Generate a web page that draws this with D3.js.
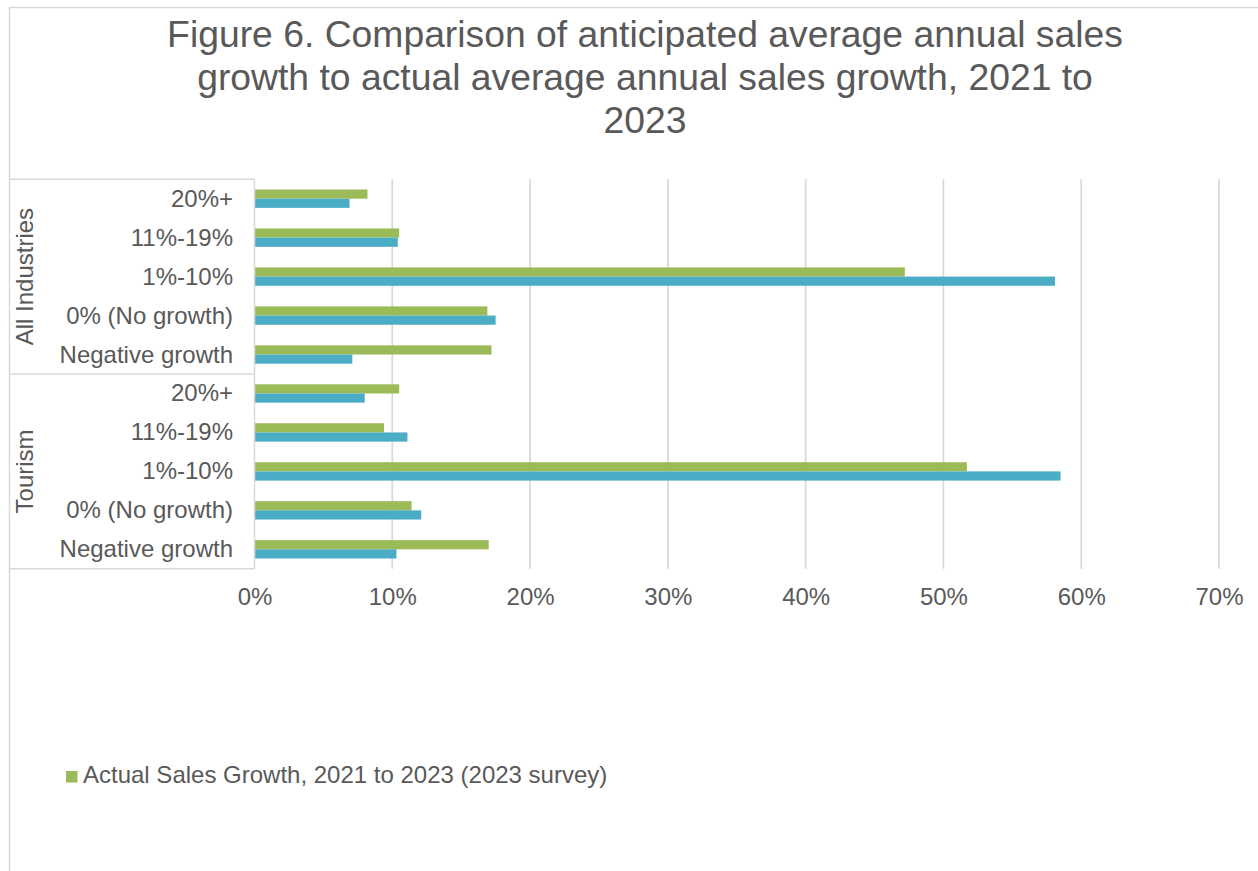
<!DOCTYPE html>
<html>
<head>
<meta charset="utf-8">
<script src="https://cdn.jsdelivr.net/npm/d3@7"></script>
<style>
  html, body { margin: 0; padding: 0; background: #fff; }
  svg { display: block; font-family: "Liberation Sans", Arial, sans-serif; }
</style>
</head>
<body>
<svg id="chart" width="1258" height="871"></svg>
<script>
// Outer category level (industry groups) and inner level (growth bands)
const groups = ["All Industries", "Tourism"];
const growthBands = ["20%+", "11%-19%", "1%-10%", "0% (No growth)", "Negative growth"];

// Share of businesses (%) per growth band, listed in growthBands order
const actualAll      = [8.2, 10.5, 47.2, 16.9, 17.2];
const actualTourism  = [10.5, 9.4, 51.7, 11.4, 17.0];
const anticipatedAll     = [6.9, 10.4, 58.1, 17.5, 7.1];
const anticipatedTourism = [8.0, 11.1, 58.5, 12.1, 10.3];

const seriesNames = [
  "Actual Sales Growth, 2021 to 2023 (2023 survey)",
  "Anticipated Sales Growth, 2021 to 2023 (2020 survey)"
];
const legendNames = ["Actual Sales Growth, 2021 to 2023 (2023 survey)"];
const xTicks = [0, 10, 20, 30, 40, 50, 60, 70];

const titleLines = [
  "Figure 6. Comparison of anticipated average annual sales",
  "growth to actual average annual sales growth, 2021 to",
  "2023"
];

const colors = { [seriesNames[0]]: "#9BBB59", [seriesNames[1]]: "#4BACC6" };
const textColor = "#595959";
const lineColor = "#D9D9D9";

// Build rows: one per (group, band)
const valuesBySeries = {
  [seriesNames[0]]: { "All Industries": actualAll, "Tourism": actualTourism },
  [seriesNames[1]]: { "All Industries": anticipatedAll, "Tourism": anticipatedTourism }
};
const rows = [];
groups.forEach(g => growthBands.forEach((b, i) => {
  rows.push({
    key: g + "|" + b, group: g, band: b,
    values: seriesNames.map(s => ({ series: s, value: valuesBySeries[s][g][i] }))
  });
}));

const svg = d3.select("#chart");
svg.append("rect").attr("width", 1258).attr("height", 871).attr("fill", "#fff");

// Chart frame (top and left edges)
svg.append("path")
  .attr("d", "M9.5,871 V7.5 H1258")
  .attr("fill", "none").attr("stroke", lineColor).attr("stroke-width", 1.5);

// Title
svg.append("text")
  .attr("x", 645).attr("y", 47)
  .attr("text-anchor", "middle")
  .attr("font-size", 37.3).attr("fill", textColor)
  .selectAll("tspan").data(titleLines).join("tspan")
  .attr("x", 645).attr("dy", (d, i) => i === 0 ? 0 : 43)
  .text(d => d);

const plot = { left: 254.5, right: 1219, top: 179.2, bottom: 568.8 };

const x = d3.scaleLinear().domain([0, 70]).range([plot.left, plot.right]);
const y = d3.scaleBand().domain(rows.map(r => r.key)).range([plot.top, plot.bottom]);
const ySub = d3.scaleBand().domain(seriesNames).range([0, y.bandwidth()]).paddingOuter(1.12);

// Vertical gridlines
svg.append("g").selectAll("line").data(xTicks.filter(t => t > 0)).join("line")
  .attr("x1", d => x(d)).attr("x2", d => x(d))
  .attr("y1", plot.top).attr("y2", plot.bottom)
  .attr("stroke", lineColor).attr("stroke-width", 1.75);

// X axis tick labels
const xAxis = d3.axisBottom(x).tickValues(xTicks).tickFormat(d => d + "%").tickSize(0).tickPadding(0);
const gx = svg.append("g").attr("transform", `translate(0,${plot.bottom})`).call(xAxis);
gx.select(".domain").remove();
gx.selectAll("text")
  .attr("font-size", 24).attr("fill", textColor)
  .attr("font-family", "Liberation Sans, Arial, sans-serif")
  .attr("dy", null).attr("y", 36);

// Bars
const rowG = svg.append("g").selectAll("g").data(rows).join("g")
  .attr("transform", d => `translate(0,${y(d.key)})`);
rowG.selectAll("rect").data(d => d.values).join("rect")
  .attr("x", x(0))
  .attr("y", d => ySub(d.series))
  .attr("width", d => x(d.value) - x(0))
  .attr("height", ySub.bandwidth())
  .attr("fill", d => colors[d.series]);

// Category axis line
svg.append("line")
  .attr("x1", plot.left).attr("x2", plot.left)
  .attr("y1", plot.top).attr("y2", plot.bottom)
  .attr("stroke", lineColor).attr("stroke-width", 1.5);

// Group divider lines of the multi-level category axis
const groupEdges = [plot.top];
groups.forEach(g => {
  const last = rows.filter(r => r.group === g).slice(-1)[0];
  groupEdges.push(y(last.key) + y.bandwidth());
});
svg.append("g").selectAll("line").data(groupEdges).join("line")
  .attr("x1", 9.5).attr("x2", plot.left)
  .attr("y1", d => d).attr("y2", d => d)
  .attr("stroke", lineColor).attr("stroke-width", 1.5);

// Inner category labels
svg.append("g").selectAll("text").data(rows).join("text")
  .attr("x", 233)
  .attr("y", d => y(d.key) + y.bandwidth() / 2 + 8)
  .attr("text-anchor", "end")
  .attr("font-size", 24).attr("fill", textColor)
  .text(d => d.band);

// Outer group labels, rotated
svg.append("g").selectAll("text").data(groups).join("text")
  .attr("transform", g => {
    const gr = rows.filter(r => r.group === g);
    const cy = (y(gr[0].key) + y(gr[gr.length - 1].key) + y.bandwidth()) / 2;
    return `translate(33,${cy}) rotate(-90)`;
  })
  .attr("text-anchor", "middle")
  .attr("font-size", 24).attr("fill", textColor)
  .text(d => d);

// Legend
const lg = svg.append("g").attr("transform", "translate(66,771)");
lg.selectAll("rect").data(legendNames).join("rect")
  .attr("width", 11.5).attr("height", 11.5)
  .attr("fill", d => colors[d]);
lg.selectAll("text").data(legendNames).join("text")
  .attr("x", 17).attr("y", 11.5)
  .attr("font-size", 24).attr("fill", textColor)
  .text(d => d);
</script>
</body>
</html>
